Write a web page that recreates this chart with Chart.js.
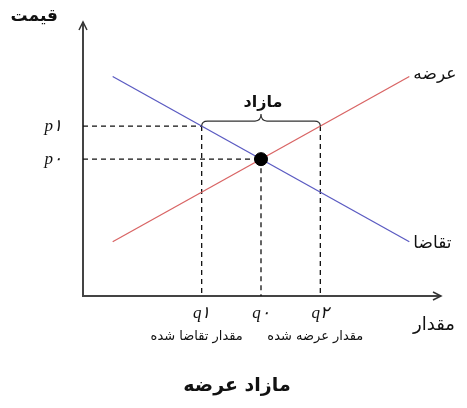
<!DOCTYPE html>
<html><head><meta charset="utf-8">
<script src="https://cdn.jsdelivr.net/npm/chart.js@4/dist/chart.umd.min.js"></script>
<style>html,body{margin:0;padding:0;background:#fff}#wrap{width:467px;height:408px}</style>
</head><body><div id="wrap"><canvas id="c" width="467" height="408"></canvas></div>
<script>
// quantities on the horizontal axis
const quantityValues = [4, 6, 8];            // q1, q0, q2
const quantityLabels = ['q۱', 'q۰', 'q۲'];
const quantityNotes  = ['مقدار تقاضا شده', '', 'مقدار عرضه شده'];
// prices on the vertical axis
const priceValues = [6.27, 5.05];            // p1, p0
const priceLabels = ['p۱', 'p۰'];
// curves
const demandX = [1, 11];
const demandY = [8.1, 2.0];
const supplyX = [1, 11];
const supplyY = [2.0, 8.1];
// texts
const axisYTitle = 'قیمت';
const axisXTitle = 'مقدار';
const supplyName = 'عرضه';
const demandName = 'تقاضا';
const surplusName = 'مازاد';
const chartTitle = 'مازاد عرضه';

const [q1, q0, q2] = quantityValues;
const [p1, p0] = priceValues;
const pts = (xs, ys) => xs.map((x, i) => ({x, y: ys[i]}));
const dashStyle = {borderColor:'#111', borderWidth:1.3, borderDash:[5,4], pointRadius:0, showLine:true, fill:false, order:3};

const datasets = [
  {data:[{x:q0,y:p0}], backgroundColor:'#000', borderColor:'#000', pointRadius:6.5, showLine:false, order:0},
  {data:pts(demandX, demandY), borderColor:'#5b5bc2', borderWidth:1.3, pointRadius:0, showLine:true, order:1},
  {data:pts(supplyX, supplyY), borderColor:'#d96565', borderWidth:1.3, pointRadius:0, showLine:true, order:1},
  Object.assign({data:[{x:0,y:p1},{x:q1,y:p1}]}, dashStyle),
  Object.assign({data:[{x:0,y:p0},{x:q0,y:p0}]}, dashStyle),
  Object.assign({data:[{x:q1,y:p1},{x:q1,y:0}]}, dashStyle),
  Object.assign({data:[{x:q0,y:p0},{x:q0,y:0}]}, dashStyle),
  Object.assign({data:[{x:q2,y:p1},{x:q2,y:0}]}, dashStyle)
];

const arabic = '"DejaVu Sans", "Noto Sans", sans-serif';
const decor = {
  id:'decor',
  afterDraw(chart){
    const {ctx, chartArea:a, scales:{x, y}} = chart;
    ctx.save();
    // arrows
    ctx.strokeStyle = '#333'; ctx.lineWidth = 1.5;
    ctx.beginPath();
    ctx.moveTo(a.left-4, a.top+5); ctx.lineTo(a.left, a.top-3); ctx.lineTo(a.left+4, a.top+5);
    ctx.moveTo(a.right-6, a.bottom-4); ctx.lineTo(a.right+2, a.bottom); ctx.lineTo(a.right-6, a.bottom+4);
    ctx.stroke();
    // brace
    const xl = x.getPixelForValue(q1), xr = x.getPixelForValue(q2), yb = y.getPixelForValue(p1);
    const xm = (xl + xr) / 2, yh = yb - 5, yt = yb - 12;
    ctx.strokeStyle = '#333'; ctx.lineWidth = 1.2;
    ctx.beginPath();
    ctx.moveTo(xl, yb);
    ctx.quadraticCurveTo(xl, yh, xl + 6, yh);
    ctx.lineTo(xm - 6, yh);
    ctx.quadraticCurveTo(xm, yh, xm, yt);
    ctx.quadraticCurveTo(xm, yh, xm + 6, yh);
    ctx.lineTo(xr - 6, yh);
    ctx.quadraticCurveTo(xr, yh, xr, yb);
    ctx.stroke();
    ctx.fillStyle = '#111'; ctx.textBaseline = 'middle';
    ctx.textAlign = 'center';
    ctx.font = 'bold 16px ' + arabic;
    ctx.fillText(surplusName, xm + 2, yt - 11);
    // price labels
    ctx.font = 'italic 17px "Liberation Serif", "DejaVu Serif", serif';
    ctx.textAlign = 'right';
    priceValues.forEach((v, i) => ctx.fillText(priceLabels[i], a.left - 21, y.getPixelForValue(v)));
    // quantity labels
    ctx.textAlign = 'center';
    quantityValues.forEach((v, i) => ctx.fillText(quantityLabels[i], x.getPixelForValue(v), a.bottom + 18));
    ctx.font = '13px ' + arabic;
    quantityValues.forEach((v, i) => { if (quantityNotes[i]) ctx.fillText(quantityNotes[i], x.getPixelForValue(v) - 5, a.bottom + 41); });
    // axis titles and curve names
    ctx.font = 'bold 17px ' + arabic;
    ctx.textAlign = 'right';
    ctx.fillText(axisYTitle, 58, 17);
    ctx.textAlign = 'left';
    ctx.font = '17px ' + arabic;
    ctx.fillText(supplyName, x.getPixelForValue(supplyX[1]) + 4, y.getPixelForValue(supplyY[1]) - 2);
    ctx.fillText(demandName, x.getPixelForValue(demandX[1]) + 4, y.getPixelForValue(demandY[1]) + 2);
    ctx.font = '18px ' + arabic;
    ctx.fillText(axisXTitle, a.right - 26, a.bottom + 29);
    ctx.textAlign = 'center';
    ctx.font = 'bold 19px ' + arabic;
    ctx.fillText(chartTitle, 237, 386);
    ctx.restore();
  }
};

new Chart(document.getElementById('c'), {
  type:'scatter',
  data:{datasets},
  options:{
    responsive:false, animation:false,
    layout:{padding:{left:83, right:28, top:25, bottom:112}},
    plugins:{legend:{display:false}, tooltip:{enabled:false}, title:{display:false}},
    scales:{
      x:{type:'linear', min:0, max:12, ticks:{display:false}, grid:{display:false, drawTicks:false},
         border:{display:true, color:'#444', width:2}, afterFit(s){s.height = 0;}},
      y:{type:'linear', min:0, max:10, ticks:{display:false}, grid:{display:false, drawTicks:false},
         border:{display:true, color:'#444', width:2}, afterFit(s){s.width = 0;}}
    }
  },
  plugins:[decor]
});
</script></body></html>
